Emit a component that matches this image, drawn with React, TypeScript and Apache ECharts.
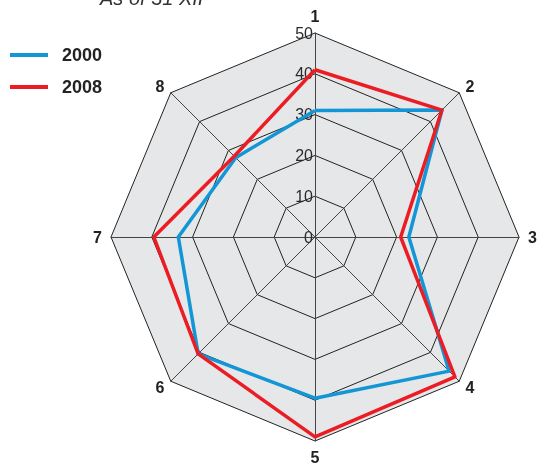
import React, { useEffect, useRef } from "react";
import * as echarts from "echarts";

const indicatorNames = ["1", "2", "3", "4", "5", "6", "7", "8"];
const maxValue = 50;
const seriesNames = ["2000", "2008"];
const values2000 = [31, 44, 23, 46.5, 39.5, 40.5, 33.5, 27.5];
const values2008 = [41, 44, 21, 48.5, 49, 40.5, 39.5, 28];
const seriesColors = ["#1296d6", "#ec1c24"];
const titleText = "As of 31 XII";

// ECharts places radar indicators counter-clockwise; reorder to get clockwise 1..8
const order = [0, 7, 6, 5, 4, 3, 2, 1];

export default function App() {
  const ref = useRef<HTMLDivElement>(null);
  useEffect(() => {
    if (!ref.current) return;
    const chart = echarts.init(ref.current, null, { renderer: "svg" });
    const font = "'Liberation Sans', Arial, sans-serif";
    const indicator = order.map((i, k) => ({
      name: indicatorNames[i],
      max: maxValue,
      min: 0,
      axisLabel: k === 0 ? { show: true } : undefined,
    }));
    const allValues = [values2000, values2008];
    chart.setOption({
      animation: false,
      textStyle: { fontFamily: font },
      graphic: [
        {
          type: "text",
          left: 100,
          top: -12,
          style: {
            text: titleText,
            font: "italic 20px 'Liberation Sans', Arial, sans-serif",
            fill: "#333",
          },
        },
      ],
      legend: {
        orient: "vertical",
        left: 5,
        top: 40,
        itemWidth: 38,
        itemHeight: 4,
        itemGap: 12,
        icon: "rect",
        data: seriesNames,
        textStyle: {
          fontSize: 18,
          fontWeight: "bold",
          color: "#222",
          lineHeight: 20,
          padding: [0, 0, 0, 9],
          fontFamily: font,
        },
      },
      radar: {
        center: [315, 237],
        radius: 204,
        startAngle: 90,
        shape: "polygon",
        splitNumber: 5,
        indicator,
        nameGap: 9,
        axisName: {
          color: "#222",
          fontSize: 16,
          lineHeight: 15,
          fontWeight: "bold",
          fontFamily: font,
        },
        axisLine: { lineStyle: { color: "#444", width: 1 } },
        splitLine: { lineStyle: { color: "#222", width: 1 } },
        splitArea: { areaStyle: { color: ["#e6e7e8"] } },
        axisTick: { show: false },
        axisLabel: {
          show: false,
          color: "#2a2a2a",
          fontSize: 16,
          margin: 2,
          padding: [0, 0, 6, 0],
          fontFamily: font,
        },
      },
      series: [
        {
          type: "radar",
          symbol: "none",
          data: seriesNames.map((name, s) => ({
            name,
            value: order.map((i) => allValues[s][i]),
            lineStyle: { color: seriesColors[s], width: 3.5 },
            itemStyle: { color: seriesColors[s] },
          })),
        },
      ],
    });
    return () => chart.dispose();
  }, []);
  return (
    <div
      ref={ref}
      style={{ position: "fixed", left: 0, top: 0, width: 540, height: 466 }}
    />
  );
}
